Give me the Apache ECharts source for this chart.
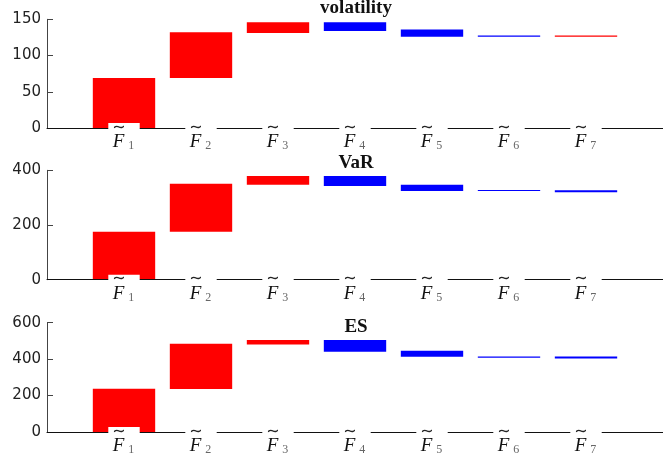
<!DOCTYPE html>
<html><head><meta charset="utf-8">
<script src="https://cdn.jsdelivr.net/npm/echarts@6/dist/echarts.min.js"></script>
<style>html,body{margin:0;padding:0;background:#fff}#c{width:663px;height:459px}</style>
</head><body><div id="c"></div>
<script>
var factorSubs = ['1','2','3','4','5','6','7'];
var titles = ['volatility','VaR','ES'];
var volStart = [0, 69, 131, 146, 136, 127.5, 126];
var volEnd   = [69, 132, 146, 134, 126, 126, 127.5];
var varStart = [0, 175, 347, 379, 347, 328, 327];
var varEnd   = [175, 351, 379, 343, 324, 324, 320];
var esStart  = [0, 236, 481, 505, 446, 414, 415];
var esEnd    = [237, 485, 505, 441, 413, 408, 404];
var yMax = [150, 400, 600];
var yInterval = [50, 200, 200];

var starts = [volStart, varStart, esStart];
var ends = [volEnd, varEnd, esEnd];
var gridTops = [19.3, 170.3, 322.7];
var gridHeights = [108.7, 109.4, 109.3];
var titleTops = [-1, 154, 318];

var chart = echarts.init(document.getElementById('c'), null, {renderer:'canvas'});
var grids=[], xAxes=[], yAxes=[], series=[], titleOpts=[];
function renderBar(params, api){
  var x = api.value(0), lo = api.value(1), hi = api.value(2);
  var p1 = api.coord([x, Math.max(lo,hi)]);
  var p2 = api.coord([x, Math.min(lo,hi)]);
  var w = api.size([0.81, 0])[0];
  var h = Math.max(p2[1]-p1[1], 1);
  return {type:'rect', shape:{x:p1[0]-w/2, y:p1[1], width:w, height:h},
    style:{fill: hi>=lo ? '#ff0000' : '#0000ff'}};
}
for (var g=0; g<3; g++) {
  grids.push({left:47, right:-6, top:gridTops[g], height:gridHeights[g], containLabel:false});
  titleOpts.push({text:titles[g], left:356, top:titleTops[g], textAlign:'center', padding:0,
    textStyle:{fontFamily:'Liberation Serif', fontWeight:'bold', fontSize:19, color:'#111'}});
  xAxes.push({type:'value', gridIndex:g, min:0, max:8, interval:1, z:10,
    axisLine:{show:true, onZero:false, lineStyle:{color:'#111', width:1}},
    axisTick:{show:false}, splitLine:{show:false},
    axisLabel:{show:true, showMinLabel:false, showMaxLabel:false, margin:-5,
      backgroundColor:'#fff', padding:[0,5,3,4],
      formatter:function(v){ var i=Math.round(v); if(i<1||i>7) return ''; return '{t|\u223C}\n{f|F}{s|'+factorSubs[i-1]+'}'; },
      rich:{
        t:{fontFamily:'DejaVu Sans', fontSize:16, lineHeight:9, color:'#222', padding:[0,9,0,0]},
        f:{fontFamily:'Liberation Serif', fontStyle:'italic', fontSize:19, lineHeight:20, color:'#111'},
        s:{fontFamily:'Liberation Serif', fontSize:12, lineHeight:20, color:'#666', padding:[8,0,0,4]}
      }}});
  yAxes.push({type:'value', gridIndex:g, min:0, max:yMax[g], interval:yInterval[g],
    axisLine:{show:true, lineStyle:{color:'#444', width:1}},
    axisTick:{show:true, inside:true, length:6, lineStyle:{color:'#444'}},
    splitLine:{show:false},
    axisLabel:{fontFamily:'DejaVu Sans', fontSize:15, color:'#222', margin:6}});
  var data=[];
  for (var i=0;i<7;i++){ data.push([i+1, starts[g][i], ends[g][i]]); }
  series.push({type:'custom', xAxisIndex:g, yAxisIndex:g, renderItem:renderBar, data:data,
    encode:{x:0, y:[1,2]}, animation:false, clip:false, z:1});
}
chart.setOption({animation:false, title:titleOpts, grid:grids, xAxis:xAxes, yAxis:yAxes, series:series});
</script></body></html>
